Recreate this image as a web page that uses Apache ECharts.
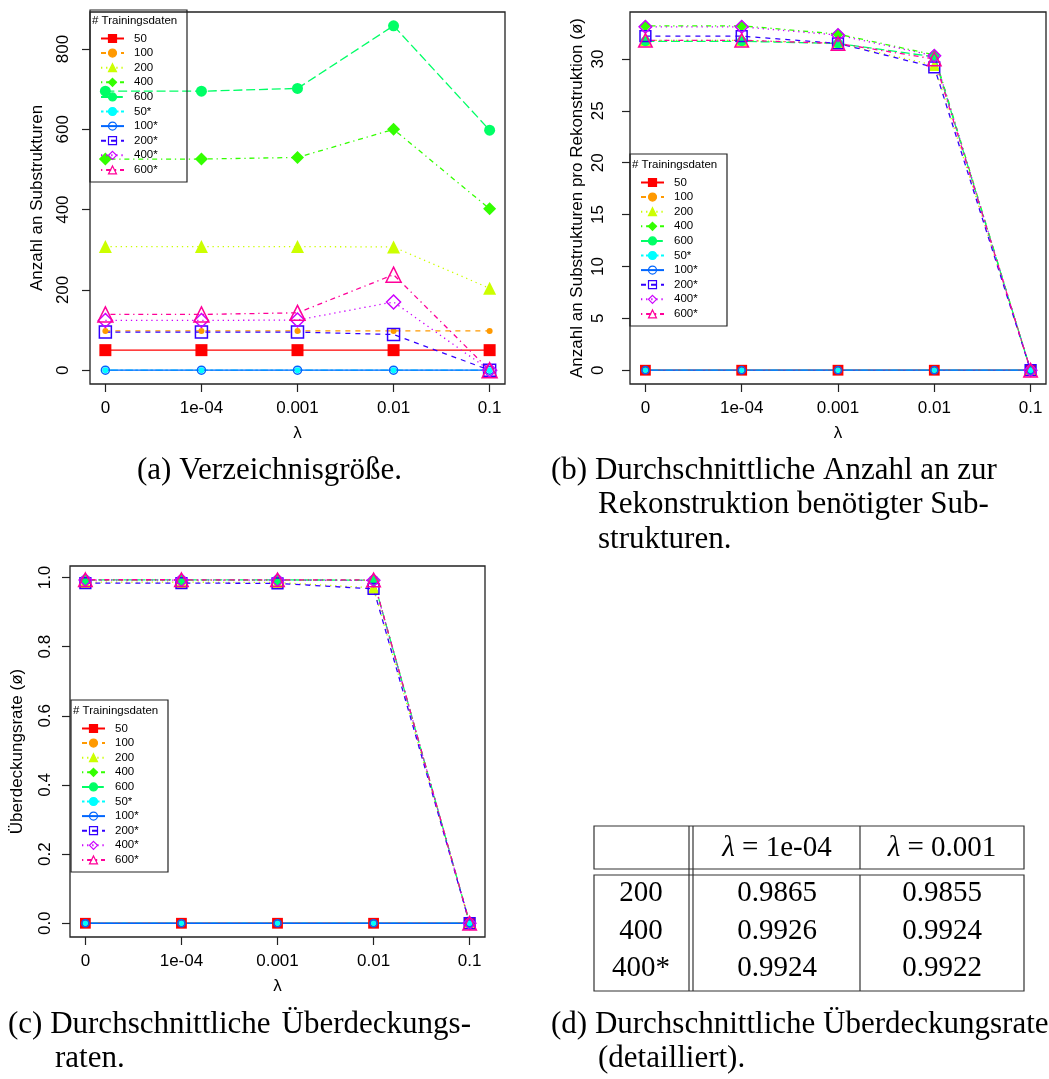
<!DOCTYPE html>
<html>
<head>
<meta charset="utf-8">
<script src="https://cdn.jsdelivr.net/npm/echarts@6/dist/echarts.min.js"></script>
<style>
  html, body { margin: 0; padding: 0; background: #fff; }
  #chart { width: 1049px; height: 1079px; }
</style>
</head>
<body>
<div id="chart"></div>
<script>
// λ values on the x axis and the training set sizes
const lambdaLabels = ['0', '1e-04', '0.001', '0.01', '0.1'];
const seriesNames = ['50', '100', '200', '400', '600', '50*', '100*', '200*', '400*', '600*'];

// (a) dictionary size: number of substructures
const size50   = [50, 50, 50, 50, 50];
const size100  = [98, 98, 98, 98, 98];
const size200  = [308, 308, 308, 307, 204];
const size400  = [526, 526, 530, 600, 402];
const size600  = [695, 695, 702, 858, 598];
const size50s  = [0, 0, 0, 0, 0];
const size100s = [0, 0, 0, 0, 0];
const size200s = [95, 95, 95, 89, 0];
const size400s = [124, 124, 125, 170, 0];
const size600s = [139, 139, 143, 238, 0];
const sizeTicks = [0, 200, 400, 600, 800];

// (b) mean number of substructures per reconstruction
const subs50   = [0, 0, 0, 0, 0];
const subs100  = [0, 0, 0, 0, 0];
const subs200  = [31.8, 31.8, 31.5, 29.4, 0];
const subs400  = [33.2, 33.2, 32.4, 30.4, 0];
const subs600  = [31.7, 31.7, 31.5, 30.2, 0];
const subs50s  = [0, 0, 0, 0, 0];
const subs100s = [0, 0, 0, 0, 0];
const subs200s = [32.2, 32.2, 31.5, 29.2, 0];
const subs400s = [33.1, 33.1, 32.3, 30.3, 0];
const subs600s = [31.8, 31.8, 31.5, 30.0, 0];
const subsTicks = [0, 5, 10, 15, 20, 25, 30];

// (c) mean coverage rate
const cover50   = [0, 0, 0, 0, 0];
const cover100  = [0, 0, 0, 0, 0];
const cover200  = [0.9866, 0.9865, 0.9855, 0.970, 0];
const cover400  = [0.9927, 0.9926, 0.9924, 0.9920, 0];
const cover600  = [0.9932, 0.9931, 0.9929, 0.9925, 0];
const cover50s  = [0, 0, 0, 0, 0];
const cover100s = [0, 0, 0, 0, 0];
const cover200s = [0.9840, 0.9838, 0.9830, 0.967, 0];
const cover400s = [0.9925, 0.9924, 0.9922, 0.9918, 0];
const cover600s = [0.9935, 0.9934, 0.9932, 0.9930, 0];
const coverTicks = [0, 0.2, 0.4, 0.6, 0.8, 1.0];

// (d) detailed table rows: label + coverage series (columns λ = 1e-04, λ = 0.001)
const tableHeader = ['1e-04', '0.001'];
const tableRows = [['200', cover200], ['400', cover400], ['400*', cover400s]];

const sizeSeries = [size50, size100, size200, size400, size600, size50s, size100s, size200s, size400s, size600s];
const subsSeries = [subs50, subs100, subs200, subs400, subs600, subs50s, subs100s, subs200s, subs400s, subs600s];
const coverSeries = [cover50, cover100, cover200, cover400, cover600, cover50s, cover100s, cover200s, cover400s, cover600s];

// ---- styling (R rainbow(10) palette, lty 1..6 cycling, pch symbols) ----
const SANS = '"Liberation Sans", Arial, sans-serif';
const SERIF = '"Liberation Serif", "Times New Roman", serif';
const INK = '#222';
const colors = ['#FF0000', '#FF9900', '#CCFF00', '#33FF00', '#00FF66', '#00FFFF', '#0066FF', '#3300FF', '#CC00FF', '#FF0099'];
const dashed = [5, 5], dotted = [1.3, 3.8], dotdash = [1.3, 3.8, 5, 3.8], longdash = [9, 3.8], twodash = [2.5, 2.5, 7.5, 2.5];
const dashes = ['solid', dashed, dotted, dotdash, longdash, twodash, 'solid', dashed, dotted, dotdash];
const symbols = ['rect', 'circle', 'triangle', 'diamond', 'circle', 'circle', 'circle', 'rect', 'diamond', 'triangle'];
const filled = [true, true, true, true, true, true, false, false, false, false];
const symSizes = [12, 6, 13, 13, 11, 6, 8, 12, 14, 15];

function paddedRange(lists) {
  let lo = Infinity, hi = -Infinity;
  lists.forEach(a => a.forEach(v => { lo = Math.min(lo, v); hi = Math.max(hi, v); }));
  const d = (hi - lo) * 0.04;
  return [lo - d, hi + d];
}

const panels = [
  { grid: { left: 90, top: 12, width: 415, height: 372 }, values: sizeSeries, ticks: sizeTicks,
    fmt: v => String(v), title: 'Anzahl an Substrukturen', labelMargin: 18, nameGap: 44, scale: 1,
    legendBox: { x: 90, y: 10 } },
  { grid: { left: 630, top: 12, width: 416, height: 372 }, values: subsSeries, ticks: subsTicks,
    fmt: v => String(v), title: 'Anzahl an Substrukturen pro Rekonstruktion (ø)', labelMargin: 23, nameGap: 44, scale: 0.9,
    legendBox: { x: 630, y: 154 } },
  { grid: { left: 70, top: 566, width: 415, height: 371 }, values: coverSeries, ticks: coverTicks,
    fmt: v => v.toFixed(1), title: 'Überdeckungsrate (ø)', labelMargin: 16, nameGap: 44, scale: 0.9,
    legendBox: { x: 71, y: 700 } }
];

const xPositions = lambdaLabels.map((_, j) => j + 1);
const axisText = { fontSize: 17, fontFamily: SANS, color: '#000' };
const legendFont = 11.5;

const grids = [], xAxes = [], yAxes = [], series = [], legends = [], graphics = [];

panels.forEach((p, i) => {
  grids.push(Object.assign({ show: true, borderColor: INK, borderWidth: 1.3, backgroundColor: 'transparent' }, p.grid));
  xAxes.push({
    gridIndex: i, type: 'value', min: 0.84, max: 5.16,
    axisLine: { show: false, onZero: false },
    axisTick: { show: true, length: 8, customValues: xPositions, lineStyle: { color: INK, width: 1.2 } },
    axisLabel: Object.assign({ customValues: xPositions, margin: 16,
      formatter: v => lambdaLabels[Math.round(v) - 1] }, axisText),
    splitLine: { show: false },
    name: 'λ', nameLocation: 'middle', nameGap: 41, nameTextStyle: axisText
  });
  const r = paddedRange(p.values);
  yAxes.push({
    gridIndex: i, type: 'value', min: r[0], max: r[1],
    axisLine: { show: false, onZero: false },
    axisTick: { show: true, length: 8, customValues: p.ticks, lineStyle: { color: INK, width: 1.2 } },
    axisLabel: Object.assign({ customValues: p.ticks, rotate: 90, margin: p.labelMargin, formatter: p.fmt }, axisText),
    splitLine: { show: false },
    name: p.title, nameLocation: 'middle', nameRotate: 90, nameGap: p.nameGap, nameTextStyle: axisText
  });
  p.values.forEach((vals, k) => {
    series.push({
      type: 'line', name: seriesNames[k], xAxisIndex: i, yAxisIndex: i,
      data: vals.map((v, j) => [xPositions[j], v]),
      symbol: symbols[k], symbolSize: symSizes[k] * p.scale, showAllSymbol: true,
      lineStyle: { color: colors[k], width: 1.3, type: dashes[k] },
      itemStyle: { color: filled[k] ? colors[k] : 'transparent', borderColor: colors[k], borderWidth: filled[k] ? 0 : 1.5 },
      emphasis: { disabled: true }, animation: false, clip: false
    });
  });
  const b = p.legendBox;
  legends.push({
    orient: 'vertical', left: b.x + 10, top: b.y + 22.5, padding: 0,
    itemWidth: 23, itemHeight: 10, itemGap: 2.6, selectedMode: false,
    data: seriesNames,
    itemStyle: { borderWidth: 1.2 },
    textStyle: { fontSize: legendFont, fontFamily: SANS, color: '#000', lineHeight: 10, padding: [0, 0, 0, 5] }
  });
  graphics.push(
    { type: 'rect', shape: { x: b.x, y: b.y, width: 97, height: 172 }, style: { fill: 'none', stroke: INK, lineWidth: 1.2 }, z: 10 },
    { type: 'text', x: b.x + 2, y: b.y + 11, style: { text: '# Trainingsdaten', font: legendFont + 'px ' + SANS, fill: '#000', verticalAlign: 'middle' }, z: 10 }
  );
});

// sub-figure captions
const capFont = '31px ' + SERIF;
function caption(x, y, text, align) {
  graphics.push({ type: 'text', x: x, y: y, style: { text: text, font: capFont, fill: '#000', align: align || 'left', verticalAlign: 'middle' } });
}
caption(137, 471, '(a) Verzeichnisgröße.');
caption(551, 471, '(b) Durchschnittliche Anzahl an zur');
caption(598, 505, 'Rekonstruktion benötigter Sub-');
caption(598, 540, 'strukturen.');
caption(8, 1025, '(c) Durchschnittliche');
caption(471, 1025, 'Überdeckungs-', 'right');
caption(55, 1059, 'raten.');
caption(551, 1025, '(d) Durchschnittliche Überdeckungsrate');
caption(598, 1059, '(detailliert).');

// (d) table drawn with plain shapes
const tStroke = { fill: 'none', stroke: '#333', lineWidth: 1.2 };
graphics.push(
  { type: 'rect', shape: { x: 594, y: 826, width: 430, height: 43 }, style: tStroke },
  { type: 'rect', shape: { x: 594, y: 875, width: 430, height: 116 }, style: tStroke },
  { type: 'line', shape: { x1: 689, y1: 826, x2: 689, y2: 991 }, style: tStroke },
  { type: 'line', shape: { x1: 693, y1: 826, x2: 693, y2: 991 }, style: tStroke },
  { type: 'line', shape: { x1: 860, y1: 826, x2: 860, y2: 869 }, style: tStroke },
  { type: 'line', shape: { x1: 860, y1: 875, x2: 860, y2: 991 }, style: tStroke }
);
const colCenters = [777, 942];
tableHeader.forEach((h, c) => {
  graphics.push({ type: 'text', x: colCenters[c], y: 848, style: {
    text: '{i|λ} = ' + h, font: '29px ' + SERIF, fill: '#000', align: 'center', verticalAlign: 'middle',
    rich: { i: { fontStyle: 'italic', fontFamily: SERIF, fontSize: 29 } } } });
});
const rowYs = [893, 931, 968];
tableRows.forEach((row, r) => {
  graphics.push({ type: 'text', x: 641, y: rowYs[r], style: { text: row[0], font: '29px ' + SERIF, fill: '#000', align: 'center', verticalAlign: 'middle' } });
  [row[1][1], row[1][2]].forEach((v, c) => {
    graphics.push({ type: 'text', x: colCenters[c], y: rowYs[r], style: { text: v.toFixed(4), font: '29px ' + SERIF, fill: '#000', align: 'center', verticalAlign: 'middle' } });
  });
});

const chart = echarts.init(document.getElementById('chart'));
chart.setOption({
  animation: false,
  backgroundColor: '#fff',
  grid: grids, xAxis: xAxes, yAxis: yAxes,
  legend: legends, series: series, graphic: graphics
});
</script>
</body>
</html>
